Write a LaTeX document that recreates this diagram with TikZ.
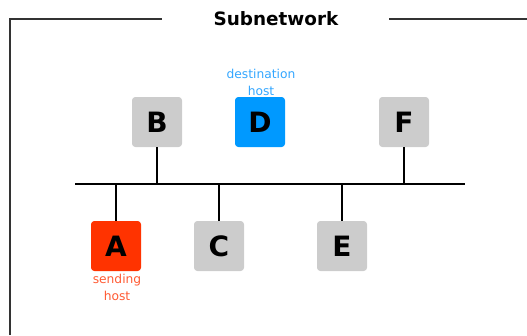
\documentclass[tikz,border=0pt]{standalone}
\usepackage{fontspec}
\setmainfont{DejaVu Sans}
\begin{document}
\begin{tikzpicture}[x=0.75pt,y=-0.75pt,
  host/.style={rounded corners=2.5pt, minimum width=37.5pt, minimum height=37.5pt,
    inner sep=0pt, font=\bfseries\fontsize{21}{21}\selectfont, text=black},
  idle/.style={host, fill=hostgray},
  wire/.style={line width=1.5pt, black},
  note/.style={font=\fontsize{9.2}{12.6}\selectfont, align=center, inner sep=0pt}]
  \definecolor{hostgray}{HTML}{CCCCCC}
  \definecolor{destblue}{HTML}{0099FF}
  \definecolor{sendred}{HTML}{FF3300}
  \definecolor{destlabel}{HTML}{33A6FF}
  \definecolor{sendlabel}{HTML}{FF5A33}
  \useasboundingbox (0,0) rectangle (527,335);

  % enclosing subnetwork frame with its title
  \node[font=\bfseries\fontsize{13.8}{14}\selectfont] (title) at (276,19) {Subnetwork};
  \coordinate (fl) at (10,19);
  \coordinate (fb) at (10,335);
  \coordinate (ftl) at (162,19);
  \coordinate (ftr) at (389,19);
  \coordinate (fr) at (527,19);
  \draw[line width=1pt, black!80] (fb) -- (fl) -- (ftl);
  \draw[line width=1pt, black!80] (ftr) -- (fr);

  % shared bus
  \coordinate (busL) at (75,184);
  \coordinate (busR) at (465,184);
  \draw[wire] (busL) -- (busR);

  % hosts
  \node[idle] (B) at (157,122) {B};
  \node[host, fill=destblue] (D) at (260,122) {D};
  \node[idle] (F) at (404,122) {F};
  \node[host, fill=sendred] (A) at (116,246) {A};
  \node[idle] (C) at (219,246) {C};
  \node[idle] (E) at (342,246) {E};

  % drops to the bus
  \draw[wire] (A.north) -- (A.north |- busL);
  \draw[wire] (B.south) -- (B.south |- busL);
  \draw[wire] (C.north) -- (C.north |- busL);
  \draw[wire] (E.north) -- (E.north |- busL);
  \draw[wire] (F.south) -- (F.south |- busL);

  % role labels
  \node[note, text=destlabel, anchor=south] (dlab) at (261,96) {destination\\host};
  \node[note, text=sendlabel, anchor=north] (alab) at (117,274) {sending\\host};
\end{tikzpicture}
\end{document}
